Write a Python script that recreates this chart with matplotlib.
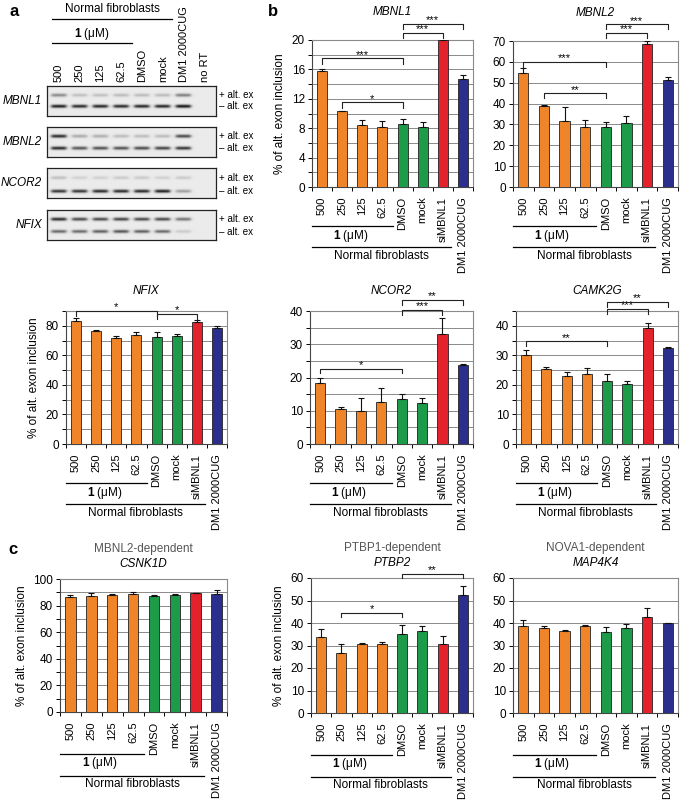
import numpy as np
import matplotlib
matplotlib.use('Agg')
import matplotlib.pyplot as plt
from matplotlib.transforms import blended_transform_factory as blend

plt.rcParams['font.family'] = ['Liberation Sans', 'DejaVu Sans']
plt.rcParams['mathtext.fontset'] = 'custom'
plt.rcParams['mathtext.rm'] = 'Liberation Sans'
plt.rcParams['mathtext.bf'] = 'Liberation Sans:bold'

# ---- data -------------------------------------------------------------
CONDITIONS = ['500', '250', '125', '62.5', 'DMSO', 'mock', 'siMBNL1', 'DM1 2000CUG']
GEL_LANES = ['500', '250', '125', '62.5', 'DMSO', 'mock', 'DM1 2000CUG', 'no RT']

# gel band darkness per lane (upper = + alt. ex, lower = - alt. ex)
MBNL1_GEL_UP = [0.45, 0.2, 0.2, 0.22, 0.22, 0.22, 0.5, 0]
MBNL1_GEL_LOW = [0.95, 0.9, 0.92, 0.9, 0.92, 0.92, 1.0, 0]
MBNL2_GEL_UP = [0.9, 0.3, 0.28, 0.22, 0.22, 0.22, 0.75, 0]
MBNL2_GEL_LOW = [0.9, 0.7, 0.72, 0.72, 0.75, 0.78, 0.85, 0]
NCOR2_GEL_UP = [0.2, 0.12, 0.12, 0.15, 0.15, 0.12, 0.15, 0]
NCOR2_GEL_LOW = [0.85, 0.85, 0.9, 0.9, 0.9, 0.95, 0.35, 0]
NFIX_GEL_UP = [0.9, 0.75, 0.75, 0.78, 0.75, 0.75, 0.55, 0]
NFIX_GEL_LOW = [0.6, 0.6, 0.65, 0.7, 0.65, 0.6, 0.15, 0]

MBNL1_MEAN = [15.8, 10.3, 8.4, 8.2, 8.6, 8.2, 20.0, 14.7]
MBNL1_ERR = [0.3, 0.1, 0.7, 0.8, 0.6, 0.6, 0.2, 0.5]
MBNL1_SIG = [(0, 4, 17.5, '***'), (1, 4, 11.5, '*'), (4, 6, 21.0, '***'), (4, 7, 22.2, '***')]

MBNL2_MEAN = [54.5, 38.7, 31.5, 28.6, 28.6, 30.8, 68.8, 51.3]
MBNL2_ERR = [2.5, 0.5, 6.8, 3.5, 2.5, 3.3, 1.0, 1.5]
MBNL2_SIG = [(0, 4, 60, '***'), (1, 4, 45, '**'), (4, 6, 74, '***'), (4, 7, 78, '***')]

NFIX_MEAN = [83.0, 76.5, 72.0, 73.5, 72.5, 73.0, 82.7, 78.4]
NFIX_ERR = [2.5, 0.7, 1.0, 2.0, 3.0, 1.2, 1.0, 1.5]
NFIX_SIG = [(0, 4, 90, '*'), (4, 6, 88, '*')]

NCOR2_MEAN = [18.2, 10.4, 9.9, 12.7, 13.5, 12.2, 33.2, 23.9]
NCOR2_ERR = [1.8, 0.8, 4.0, 4.0, 1.5, 1.5, 4.6, 0.3]
NCOR2_SIG = [(0, 4, 22.7, '*'), (4, 6, 40.3, '***'), (4, 7, 43.3, '**')]

CAMK2G_MEAN = [30.2, 25.4, 23.0, 23.7, 21.3, 20.4, 39.2, 32.5]
CAMK2G_ERR = [1.6, 0.8, 1.2, 2.0, 2.5, 0.8, 1.8, 0.2]
CAMK2G_SIG = [(0, 4, 34.7, '**'), (4, 6, 45.6, '***'), (4, 7, 48, '**')]

CSNK1D_MEAN = [86.5, 87.0, 88.0, 89.0, 87.3, 88.3, 89.5, 89.0]
CSNK1D_ERR = [1.5, 2.5, 0.7, 1.0, 0.5, 0.5, 0.3, 3.0]

PTBP2_MEAN = [33.8, 26.8, 30.6, 30.6, 35.3, 36.5, 30.8, 52.3]
PTBP2_ERR = [3.7, 4.0, 0.5, 0.8, 3.6, 2.0, 3.3, 4.0]
PTBP2_SIG = [(1, 4, 44.6, '*'), (4, 7, 62, '**')]

MAP4K4_MEAN = [38.8, 38.0, 36.5, 38.5, 36.0, 37.7, 42.5, 39.8]
MAP4K4_ERR = [2.5, 0.5, 0.3, 0.5, 2.3, 2.0, 4.0, 0.3]

# ---- style ------------------------------------------------------------
ORANGE, GREEN, RED, NAVY = '#EF8528', '#1E9B48', '#E3222B', '#2B2E8C'
BAR_COLORS = [ORANGE] * 4 + [GREEN] * 2 + [RED, NAVY]
UM_LABEL = '$\\mathbf{1}$ (\u03bcM)'

W, H = 685, 800
fig = plt.figure(figsize=(W / 100, H / 100), dpi=100)


def px_axes(x0, y0, x1, y1):
    return fig.add_axes([x0 / W, 1 - y1 / H, (x1 - x0) / W, (y1 - y0) / H])


def ftext(x, y, s, **kw):
    fig.text(x / W, 1 - y / H, s, **kw)


# ---- panel a : gel ----------------------------------------------------
def gel_image(upper, lower, up_pos, low_pos, nx=170, ny=40):
    X, Y = np.meshgrid(np.linspace(-0.55, 7.55, nx), np.linspace(0, 1, ny))
    img = np.full(X.shape, 0.92)
    for lane in range(8):
        prof = 1 / (1 + np.exp(-(0.36 - np.abs(X - lane)) * 22))
        for amp, pos in ((upper[lane], up_pos), (lower[lane], low_pos)):
            img -= 0.85 * amp * prof * np.exp(-((Y - pos) / 0.055) ** 2)
    return np.clip(img, 0, 1)


gels = [('MBNL1', MBNL1_GEL_UP, MBNL1_GEL_LOW, 0.3, 0.68, 86),
        ('MBNL2', MBNL2_GEL_UP, MBNL2_GEL_LOW, 0.3, 0.71, 127),
        ('NCOR2', NCOR2_GEL_UP, NCOR2_GEL_LOW, 0.32, 0.78, 168),
        ('NFIX', NFIX_GEL_UP, NFIX_GEL_LOW, 0.3, 0.72, 210)]
gel_axes = []
for name, up, low, up_pos, low_pos, top in gels:
    ax = px_axes(47, top, 216, top + 30)
    ax.imshow(gel_image(up, low, up_pos, low_pos), cmap='gray', vmin=0, vmax=1,
              extent=(-0.55, 7.55, 1, 0), aspect='auto', interpolation='bilinear')
    ax.set_xlim(-0.55, 7.55)
    ax.set_ylim(1, 0)
    ax.set_xticks([])
    ax.set_yticks([])
    for sp in ax.spines.values():
        sp.set_linewidth(0.9)
        sp.set_color('#222')
    tr = blend(ax.transAxes, ax.transData)
    ax.text(-0.03, 0.5, name, transform=ax.transAxes, ha='right', va='center',
            fontsize=8.5, style='italic')
    ax.text(1.015, up_pos, '+ alt. ex', transform=tr, ha='left', va='center', fontsize=7)
    ax.text(1.015, low_pos, '\u2013 alt. ex', transform=tr, ha='left', va='center', fontsize=7)
    gel_axes.append(ax)

g0 = gel_axes[0]
gtr = blend(g0.transData, fig.transFigure)
for i, lab in enumerate(GEL_LANES):
    g0.text(i, 1 - 82 / H, lab, transform=gtr, rotation=90, ha='center', va='bottom', fontsize=8)
g0.plot([-0.3, 3.5], [1 - 43 / H] * 2, transform=gtr, color='k', lw=0.9, clip_on=False)
g0.plot([-0.3, 5.45], [1 - 19 / H] * 2, transform=gtr, color='k', lw=0.9, clip_on=False)
g0.text(1.6, 1 - 34 / H, UM_LABEL, transform=gtr, ha='center', va='center', fontsize=8.5)
g0.text(2.6, 1 - 9 / H, 'Normal fibroblasts', transform=gtr, ha='center', va='center', fontsize=8.5)


# ---- bar panels -------------------------------------------------------
def bar_panel(rect, gene, mean, err, sig, ymax, major, minor, ylabel, offs, header=None):
    ax = px_axes(*rect)
    h_px = rect[3] - rect[1]
    x = np.arange(len(CONDITIONS))
    ax.bar(x, mean, width=0.5, color=BAR_COLORS, edgecolor='#222', linewidth=0.6, zorder=3)
    ax.errorbar(x, mean, yerr=[np.zeros(len(err)), err], fmt='none', ecolor='#111',
                elinewidth=0.8, capsize=2.2, capthick=0.8, zorder=4)
    ax.set_xlim(-0.5, 7.5)
    ax.set_ylim(0, ymax)
    ax.set_yticks(np.arange(0, ymax + 0.01, major))
    ax.set_yticks(np.arange(0, ymax + 0.01, minor), minor=True)
    ax.grid(axis='y', which='both', color='#8a8a8a', lw=0.7, zorder=0)
    ax.set_xticks(x)
    ax.set_xticklabels(CONDITIONS, rotation=90, fontsize=8)
    ax.set_xticks(np.arange(-0.5, 8, 1), minor=True)
    ax.tick_params(axis='x', which='major', length=0, pad=7)
    ax.tick_params(axis='x', which='minor', length=3, width=0.7, direction='out')
    ax.tick_params(axis='y', which='both', length=3, width=0.7, labelsize=8.5, pad=2)
    for s in ('left', 'bottom'):
        ax.spines[s].set_color('#444')
        ax.spines[s].set_linewidth(0.8)
    for s in ('top', 'right'):
        ax.spines[s].set_color('#8a8a8a')
        ax.spines[s].set_linewidth(0.8)
    if ylabel:
        ax.set_ylabel('% of alt. exon inclusion', fontsize=8.5, labelpad=4)
    # significance brackets
    d = 0.035 * ymax
    for i, j, y, stars in sig:
        ax.plot([i, i, j, j], [y - d, y, y, y - d], color='#222', lw=0.8, clip_on=False, zorder=5)
        ax.text((i + j) / 2, y - 0.01 * ymax, stars, ha='center', va='bottom', fontsize=8)
    # group lines and labels below axis
    tr = blend(ax.transData, ax.transAxes)
    l1, t1, l2, t2 = [-o / h_px for o in offs]
    ax.plot([-0.5, 3.5], [l1, l1], transform=tr, color='k', lw=0.9, clip_on=False)
    ax.plot([-0.5, 6.4], [l2, l2], transform=tr, color='k', lw=0.9, clip_on=False)
    ax.text(1.4, t1, UM_LABEL, transform=tr, ha='center', va='center', fontsize=8.5)
    ax.text(2.95, t2, 'Normal fibroblasts', transform=tr, ha='center', va='center', fontsize=8.5)
    # titles
    cx = (rect[0] + rect[2]) / 2
    if header is None:
        ftext(cx, rect[1] - (28 if rect[1] < 100 else 20), gene, ha='center', va='center',
              fontsize=8.5, style='italic')
    else:
        ftext(cx, rect[1] - 15, gene, ha='center', va='center', fontsize=8.5, style='italic')
        ftext(cx, rect[1] - 30, header, ha='center', va='center', fontsize=8.5, color='#555')
    return ax


MID = (39, 49, 60, 69)
LOW = (42, 51, 64, 72)
bar_panel((312, 40, 473, 187), 'MBNL1', MBNL1_MEAN, MBNL1_ERR, MBNL1_SIG, 20, 4, 2, True, MID)
bar_panel((513, 41, 678, 187), 'MBNL2', MBNL2_MEAN, MBNL2_ERR, MBNL2_SIG, 70, 10, 10, False, MID)
bar_panel((66, 311, 227, 444), 'NFIX', NFIX_MEAN, NFIX_ERR, NFIX_SIG, 90, 20, 10, True, MID)
bar_panel((310, 311, 473, 444), 'NCOR2', NCOR2_MEAN, NCOR2_ERR, NCOR2_SIG, 40, 10, 5, False, MID)
bar_panel((516, 311, 678, 444), 'CAMK2G', CAMK2G_MEAN, CAMK2G_ERR, CAMK2G_SIG, 45, 10, 5, False, MID)
bar_panel((60, 579, 227, 712), 'CSNK1D', CSNK1D_MEAN, CSNK1D_ERR, [], 100, 20, 10, True, LOW,
          header='MBNL2-dependent')
bar_panel((311, 578, 473, 713), 'PTBP2', PTBP2_MEAN, PTBP2_ERR, PTBP2_SIG, 60, 10, 10, True, LOW,
          header='PTBP1-dependent')
bar_panel((513, 578, 678, 713), 'MAP4K4', MAP4K4_MEAN, MAP4K4_ERR, [], 60, 10, 10, False, LOW,
          header='NOVA1-dependent')

ftext(10, 11, 'a', fontsize=12, fontweight='bold', ha='left', va='center')
ftext(268, 12, 'b', fontsize=12, fontweight='bold', ha='left', va='center')
ftext(8, 549, 'c', fontsize=12, fontweight='bold', ha='left', va='center')

fig.savefig('out.png', dpi=100, facecolor='white')
